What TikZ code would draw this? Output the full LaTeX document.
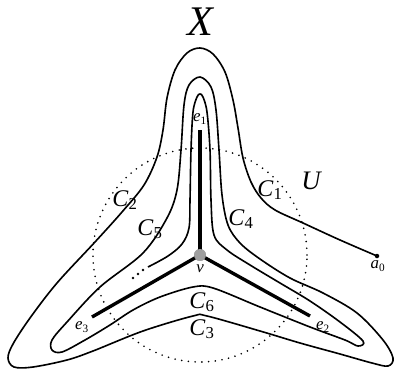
\documentclass[tikz,border=0pt]{standalone}
\usepackage{fontspec}
\setmainfont{Liberation Serif}
\usetikzlibrary{positioning}
\newcommand{\lbl}[2]{\textit{#1}\textsubscript{#2}}

\begin{document}
\begin{tikzpicture}[
  x=0.025cm, y=-0.025cm,
  curve/.style={line width=1.15pt, line join=round},
  bar/.style={line width=2.4pt},
  ring/.style={line width=1.3pt, dash pattern=on 0pt off 4.8pt, line cap=round},
  vdot/.style={circle, fill=gray!75, inner sep=0pt, minimum size=8.5pt},
  clab/.style={font=\fontsize{17}{17}\selectfont, inner sep=0pt},
  elab/.style={font=\fontsize{12}{12}\selectfont\itshape, inner sep=0pt}
]
\useasboundingbox (0,0) rectangle (394,369);

% tree and its neighbourhood
\coordinate (e1) at (200,130);
\coordinate (e2) at (310,316);
\coordinate (e3) at (92,317);
\node[vdot] (v) at (200,255) {};
\draw[ring] (v.center) circle[radius=2.675cm];
\draw[bar] (v.center) -- (e1);
\draw[bar] (v.center) -- (e2);
\draw[bar] (v.center) -- (e3);
\node[vdot] at (v) {};

% the spiral curve
\coordinate (a0) at (377,256);
\draw[curve] plot[smooth, tension=0.55] coordinates {
  (377,256) (340,240) (303,223) (275,210) (261,198) (251,182) (243,158)
  (238,128) (233,100) (225,72) (213,54) (200,48) (187,53) (175,70)
  (167,98) (163,130) (157,157) (144,185) (122,212) (95,242) (57,283)
  (30,318) (13,344) (8,358) (14,367) (33,367) (67,360) (93,351)
  (143,331) (193,316) (207,316) (260,331) (300,343) (340,354) (372,363)
  (388,366) (393,358) (383,340) (357,313) (323,293) (290,278) (260,259)
  (240,243) (228,225) (222,195) (219,150) (216,110) (211,87) (200,77)
  (189,85) (184,105) (181,150) (177,190) (167,218) (143,253) (100,287)
  (67,322) (52,340) (52,350) (62,352) (85,340) (110,325) (133,310)
  (160,297) (193,287) (213,288) (260,307) (310,327) (345,340) (358,346)
  (363,341) (340,322) (310,301) (280,283) (250,265) (227,250) (214,235)
  (211,200) (210,150) (207,112) (203,97) (200,94) (197,97) (193,112)
  (191,150) (190,200) (189,228) (182,244) (168,256) (148,267)};
\fill (a0) circle[radius=1.6pt];
\foreach \p in {(143,270),(138,274),(133,278)}
  \fill \p circle[radius=1pt];

% labels
\node[font=\fontsize{30}{30}\selectfont\itshape] (X) at (200,22) {X};
\node[font=\fontsize{19}{19}\selectfont\itshape] (U) at (311,181) {U};
\node[clab] (C1) at (270,190) {\lbl{C}{1}};
\node[clab] (C2) at (125,200) {\lbl{C}{2}};
\node[clab] (C3) at (202,329) {\lbl{C}{3}};
\node[clab] (C4) at (241,219) {\lbl{C}{4}};
\node[clab] (C5) at (150,229) {\lbl{C}{5}};
\node[clab] (C6) at (202,302) {\lbl{C}{6}};
\node[elab] (e1l) at (200,119) {e\textsubscript{\upshape 1}};
\node[elab] (e2l) at (323,327) {e\textsubscript{\upshape 2}};
\node[elab] (e3l) at (82,327) {e\textsubscript{\upshape 3}};
\node[elab] (vl) at (200,269) {v};
\node[elab] (a0l) at (378,266) {a\textsubscript{\upshape 0}};
\end{tikzpicture}
\end{document}
